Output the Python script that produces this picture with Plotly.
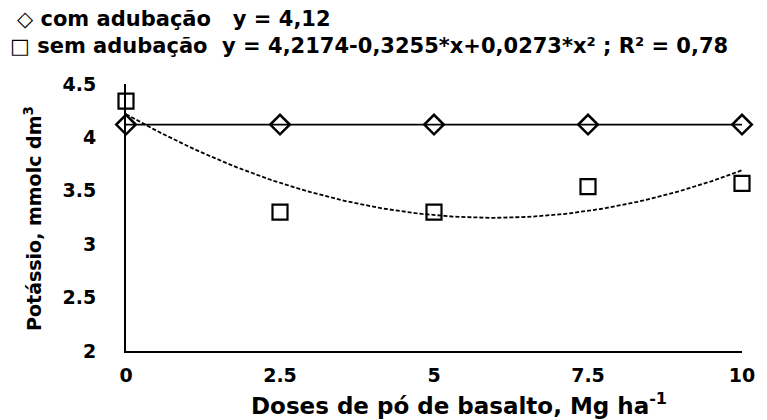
import numpy as np
import plotly.graph_objects as go

# Data
doses = [0, 2.5, 5, 7.5, 10]
com_adubacao = [4.12, 4.12, 4.12, 4.12, 4.12]
sem_adubacao = [4.34, 3.30, 3.30, 3.54, 3.57]
coef_sem = [4.2174, -0.3255, 0.0273]  # stated regression equation
x_ticks = [0, 2.5, 5, 7.5, 10]
y_ticks = [2, 2.5, 3, 3.5, 4, 4.5]

legend_com = "◇ com adubação   y = 4,12"
legend_sem = "□ sem adubação  y = 4,2174-0,3255*x+0,0273*x² ; R² = 0,78"
x_title = "Doses de pó de basalto, Mg ha<sup>-1</sup>"
y_title = "Potássio, mmolc dm<sup>3</sup>"

FONT = "DejaVu Sans"

xc = np.linspace(0, 10, 101)
yc = coef_sem[0] + coef_sem[1] * xc + coef_sem[2] * xc ** 2

fig = go.Figure()
fig.add_trace(go.Scatter(x=xc, y=yc, mode="lines", name="sem adubação (ajuste)",
                         line=dict(color="black", width=1.8, dash="4px,2px"),
                         showlegend=False, cliponaxis=False))
fig.add_trace(go.Scatter(x=doses, y=com_adubacao, mode="lines+markers", name="com adubação",
                         line=dict(color="black", width=1.6),
                         marker=dict(symbol="diamond-open", size=15, color="black",
                                     line=dict(width=2.5, color="black")),
                         showlegend=False, cliponaxis=False))
fig.add_trace(go.Scatter(x=doses, y=sem_adubacao, mode="markers", name="sem adubação",
                         marker=dict(symbol="square-open", size=15, color="black",
                                     line=dict(width=2.2, color="black")),
                         showlegend=False, cliponaxis=False))

L, R, T, B = 126, 19, 84, 69
W, H = 767, 420
pw, ph = W - L - R, H - T - B

def px_to_paper_x(px):
    return (px - L) / pw

def px_to_paper_y(py):
    return (H - B - py) / ph

annotations = [
    dict(text=legend_com, x=px_to_paper_x(14), y=px_to_paper_y(19), xref="paper", yref="paper",
         xanchor="left", yanchor="middle", showarrow=False,
         font=dict(family=FONT, size=21, color="black", weight="bold")),
    dict(text=legend_sem, x=px_to_paper_x(7), y=px_to_paper_y(46), xref="paper", yref="paper",
         xanchor="left", yanchor="middle", showarrow=False,
         font=dict(family=FONT, size=21, color="black", weight="bold")),
    dict(text=x_title, x=px_to_paper_x(462), y=px_to_paper_y(404), xref="paper", yref="paper",
         xanchor="center", yanchor="middle", showarrow=False,
         font=dict(family=FONT, size=23, color="black", weight="bold")),
    dict(text=y_title, x=px_to_paper_x(32), y=px_to_paper_y(218), xref="paper", yref="paper",
         xanchor="center", yanchor="middle", showarrow=False, textangle=-90,
         font=dict(family=FONT, size=19, color="black", weight="bold")),
]

fig.update_layout(
    width=W, height=H,
    margin=dict(l=L, r=R, t=T, b=B, pad=0),
    paper_bgcolor="white", plot_bgcolor="white",
    showlegend=False,
    annotations=annotations,
    xaxis=dict(range=[0, 10], tickvals=x_ticks, showgrid=False, zeroline=False,
               showline=True, linecolor="black", linewidth=2, ticks="",
               ticklabelstandoff=6,
               tickfont=dict(family=FONT, size=19, color="black", weight="bold")),
    yaxis=dict(range=[2, 4.5], tickvals=y_ticks, showgrid=False, zeroline=False,
               showline=True, linecolor="black", linewidth=2, ticks="",
               ticklabelstandoff=24,
               tickfont=dict(family=FONT, size=19, color="black", weight="bold")),
)

fig.write_html("out.html", config={"displayModeBar": False},
               post_script="document.body.style.margin='0';")
